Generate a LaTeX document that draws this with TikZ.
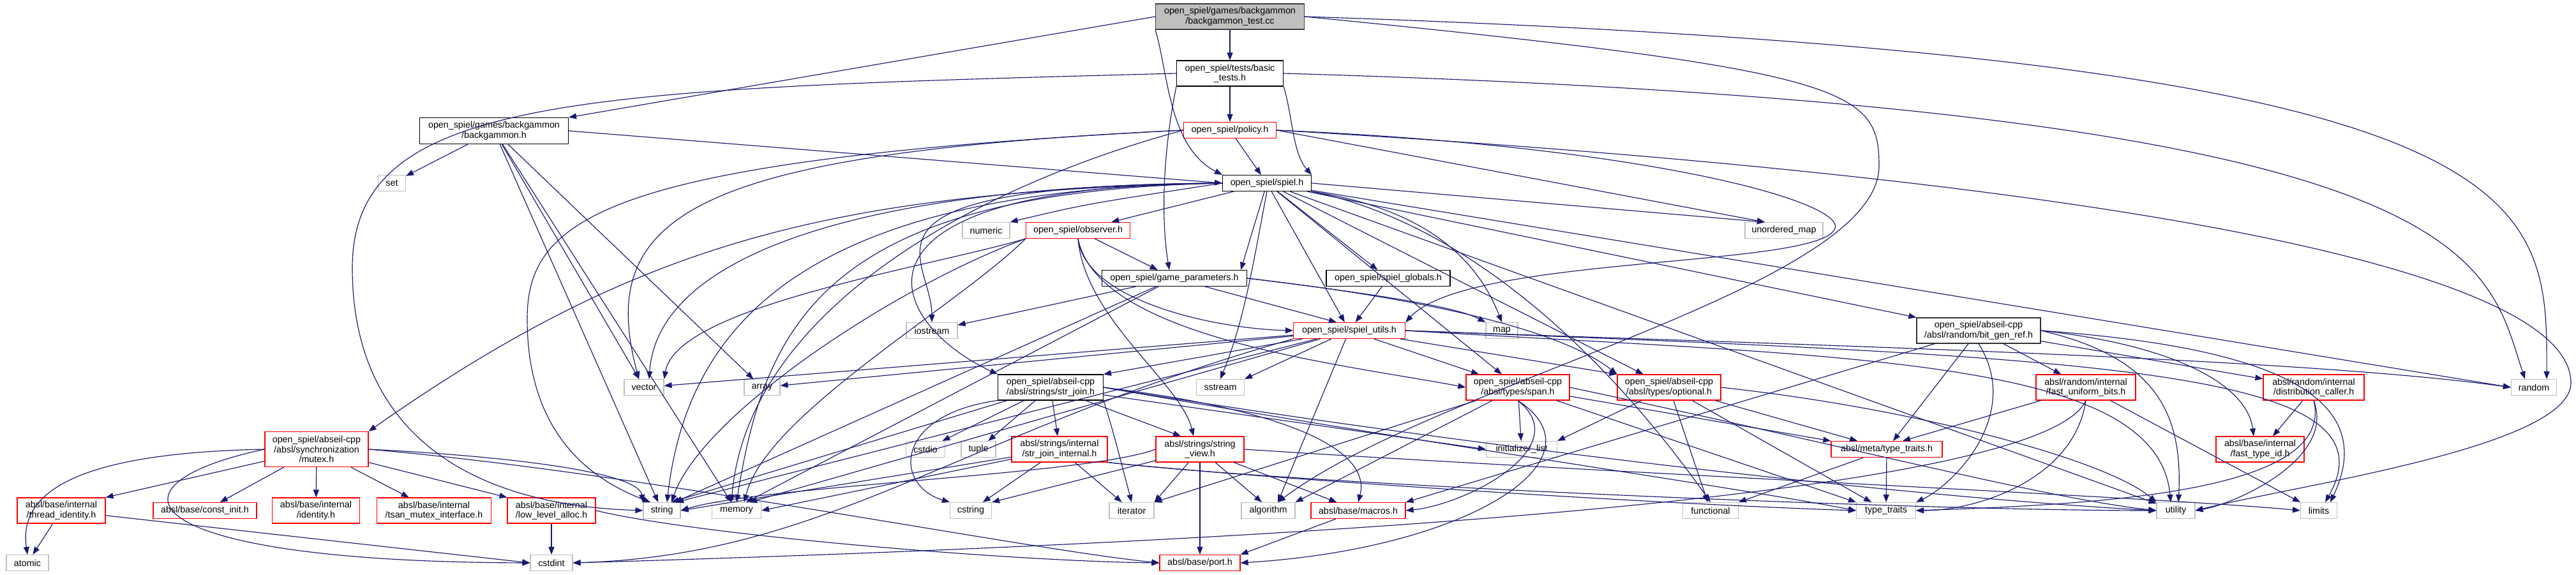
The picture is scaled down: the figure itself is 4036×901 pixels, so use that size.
\documentclass[tikz,border=0pt]{standalone}
\usepackage{fontspec}
\setmainfont{Liberation Sans}
\usetikzlibrary{arrows.meta}
\definecolor{edgeblue}{HTML}{191970}
\definecolor{sysgray}{HTML}{BFBFBF}
\definecolor{rootfill}{HTML}{BFBFBF}
\definecolor{redline}{HTML}{FF0000}
\begin{document}
\begin{tikzpicture}[x=1pt,y=-1pt,
  nd/.style={draw, line width=1.1pt, fill=white, inner sep=0pt, align=center,
    font=\fontsize{14.3pt}{15.5pt}\selectfont},
  blk/.style={nd, draw=black},
  rbox/.style={nd, draw=redline},
  sys/.style={nd, draw=sysgray},
  rootnd/.style={nd, draw=black!75, fill=rootfill},
  e/.style={draw=edgeblue, line width=1.15pt, -{Triangle[length=12pt,width=9pt]}}]
\fill[white] (0,0) rectangle (4036,901);
\useasboundingbox (0,0) rectangle (4036,901);
% ---------------- nodes ----------------
\node[rootnd, minimum width=233pt, minimum height=40pt] (tc) at (1927,26) {open\_spiel/games/backgammon\\/backgammon\_test.cc};
\node[blk, minimum width=167pt, minimum height=40pt] (bt) at (1927,115) {open\_spiel/tests/basic\\\_tests.h};
\node[blk, minimum width=233pt, minimum height=41pt] (bgh) at (774,205) {open\_spiel/games/backgammon\\/backgammon.h};
\node[rbox, minimum width=145pt, minimum height=25pt] (pol) at (1927,204) {open\_spiel/policy.h};
\node[blk, minimum width=139pt, minimum height=25pt] (sp) at (1985,287) {open\_spiel/spiel.h};
\node[sys, minimum width=43pt, minimum height=25pt] (set) at (614,287) {set};
\node[sys, minimum width=74pt, minimum height=25pt] (num) at (1545,361) {numeric};
\node[rbox, minimum width=163pt, minimum height=25pt] (obs) at (1689,361) {open\_spiel/observer.h};
\node[sys, minimum width=122pt, minimum height=25pt] (umap) at (2795,361) {unordered\_map};
\node[blk, minimum width=227pt, minimum height=25pt] (gp) at (1840,436) {open\_spiel/game\_parameters.h};
\node[blk, minimum width=194pt, minimum height=25pt] (sg) at (2175,436) {open\_spiel/spiel\_globals.h};
\node[sys, minimum width=80pt, minimum height=25pt] (ios) at (1460,518) {iostream};
\node[rbox, minimum width=175pt, minimum height=25pt] (su) at (2114,518) {open\_spiel/spiel\_utils.h};
\node[sys, minimum width=50pt, minimum height=25pt] (map) at (2353,518) {map};
\node[blk, draw=black!80, minimum width=194pt, minimum height=40pt] (bgr) at (3100,518) {open\_spiel/abseil-cpp\\/absl/random/bit\_gen\_ref.h};
\node[sys, minimum width=62pt, minimum height=25pt] (vec) at (1009,607) {vector};
\node[sys, minimum width=56pt, minimum height=25pt] (arr) at (1194,607) {array};
\node[blk, minimum width=165pt, minimum height=40pt] (sj) at (1646,607) {open\_spiel/abseil-cpp\\/absl/strings/str\_join.h};
\node[sys, minimum width=75pt, minimum height=25pt] (ss) at (1912,607) {sstream};
\node[rbox, minimum width=162pt, minimum height=40pt] (span) at (2378,607) {open\_spiel/abseil-cpp\\/absl/types/span.h};
\node[rbox, minimum width=162pt, minimum height=40pt] (opt) at (2615,607) {open\_spiel/abseil-cpp\\/absl/types/optional.h};
\node[rbox, minimum width=156pt, minimum height=40pt] (fub) at (3268,607) {absl/random/internal\\/fast\_uniform\_bits.h};
\node[rbox, minimum width=158pt, minimum height=40pt] (dc) at (3625,607) {absl/random/internal\\/distribution\_caller.h};
\node[sys, minimum width=71pt, minimum height=25pt] (rnd) at (3970,607) {random};
\node[rbox, minimum width=162pt, minimum height=55pt] (mtx) at (496,704) {open\_spiel/abseil-cpp\\/absl/synchronization\\/mutex.h};
\node[sys, minimum width=61pt, minimum height=25pt] (cstdio) at (1450,704) {cstdio};
\node[sys, minimum width=54pt, minimum height=25pt] (tuple) at (1533,704) {tuple};
\node[rbox, minimum width=150pt, minimum height=40pt] (sji) at (1660,704) {absl/strings/internal\\/str\_join\_internal.h};
\node[rbox, minimum width=138pt, minimum height=40pt] (sv) at (1880,704) {absl/strings/string\\\_view.h};
\node[sys, minimum width=111pt, minimum height=25pt] (il) at (2384,704) {initializer\_list};
\node[rbox, minimum width=174pt, minimum height=25pt] (mtt) at (2956,704) {absl/meta/type\_traits.h};
\node[rbox, minimum width=138pt, minimum height=40pt] (fti) at (3541,704) {absl/base/internal\\/fast\_type\_id.h};
\node[rbox, minimum width=138pt, minimum height=40pt] (ti) at (96,800) {absl/base/internal\\/thread\_identity.h};
\node[rbox, minimum width=162pt, minimum height=25pt] (ci) at (321,800) {absl/base/const\_init.h};
\node[rbox, minimum width=137pt, minimum height=40pt] (idn) at (495,800) {absl/base/internal\\/identity.h};
\node[rbox, minimum width=179pt, minimum height=40pt] (tsan) at (680,800) {absl/base/internal\\/tsan\_mutex\_interface.h};
\node[rbox, minimum width=138pt, minimum height=40pt] (lla) at (864,800) {absl/base/internal\\/low\_level\_alloc.h};
\node[sys, minimum width=58pt, minimum height=25pt] (str) at (1037,800) {string};
\node[sys, minimum width=77pt, minimum height=25pt] (mem) at (1154,800) {memory};
\node[sys, minimum width=65pt, minimum height=25pt] (cstring) at (1521,800) {cstring};
\node[sys, minimum width=70pt, minimum height=25pt] (iter) at (1773,800) {iterator};
\node[sys, minimum width=84pt, minimum height=25pt] (alg) at (1987,800) {algorithm};
\node[rbox, minimum width=148pt, minimum height=25pt] (mac) at (2128,800) {absl/base/macros.h};
\node[sys, minimum width=87pt, minimum height=25pt] (func) at (2680,800) {functional};
\node[sys, minimum width=93pt, minimum height=25pt] (tt) at (2955,800) {type\_traits};
\node[sys, minimum width=60pt, minimum height=25pt] (util) at (3409,800) {utility};
\node[sys, minimum width=57pt, minimum height=25pt] (lim) at (3633,800) {limits};
\node[sys, minimum width=66pt, minimum height=25pt] (atomic) at (43,882) {atomic};
\node[sys, minimum width=66pt, minimum height=25pt] (cstdint) at (864,882) {cstdint};
\node[rbox, minimum width=126pt, minimum height=25pt] (port) at (1880,882) {absl/base/port.h};
\coordinate (tcalg) at (2944,260);
\coordinate (btstr) at (552,420);
\coordinate (polstr) at (826,500);
\coordinate (polsu) at (2874,360);
\coordinate (polut) at (4028,600);
% ---------------- edges ----------------
% backgammon_test.cc
\draw[e] (tc.west) -- (bgh.north east);
\draw[e] (tc) -- (bt);
\draw[e] (tc.south west) .. controls (1830,110) and (1830,230) .. (sp.north west);
\draw[e] (tc.east) .. controls (3991,90) and (3991,300) .. ([xshift=20pt]rnd.north);
\draw[e] (tc.east) .. controls (2900,110) and (2944,140) .. (tcalg) .. controls (2944,450) and (2250,600) .. ([xshift=15pt]alg.north);
% basic_tests.h
\draw[e] (bt) -- (pol);
\draw[e] (bt.south east) .. controls (2025,180) and (2025,240) .. (sp.north east);
\draw[e] (bt.south west) .. controls (1820,250) and (1820,350) .. ([xshift=-8pt]gp.north);
\draw[e] (bt.east) .. controls (3892,170) and (3892,400) .. ([xshift=-14pt]rnd.north);
\draw[e] (bt.west) .. controls (900,140) and (552,150) .. (btstr) .. controls (552,650) and (700,790) .. (str.west);
% backgammon.h
\draw[e] (bgh) -- (set);
\draw[e] (bgh) -- (arr);
\draw[e] (bgh) -- (mem);
\draw[e] (bgh) -- (str);
\draw[e] (bgh) -- (vec);
\draw[e] (bgh.east) -- (sp.west);
% policy.h
\draw[e] (pol) -- (sp);
\draw[e] (pol.west) .. controls (1100,240) and (930,330) .. ([xshift=-8pt]vec.north);
\draw[e] (pol.west) .. controls (950,250) and (826,340) .. (polstr) .. controls (826,700) and (950,760) .. ([xshift=-18pt]str.north);
\draw[e] (pol.west) .. controls (1500,300) and (1170,500) .. ([xshift=-8pt]mem.north);
\draw[e] (pol.east) -- ([xshift=-30pt]umap.north);
\draw[e] (pol.east) .. controls (2600,230) and (2900,320) .. (polsu) .. controls (2840,420) and (2300,400) .. (su.north east);
\draw[e] (pol.east) .. controls (3300,280) and (4028,420) .. (polut) .. controls (4028,700) and (3600,760) .. (util.east);
% spiel.h
\draw[e] (sp.west) .. controls (1700,320) .. (num.north east);
\draw[e] (sp) -- (obs);
\draw[e] (sp) -- ([xshift=-10pt]gp.north east);
\draw[e] (sp) -- (sg);
\draw[e] (sp.east) -- ([xshift=-30pt]umap.north);
\draw[e] (sp.south) .. controls (1962,420) and (1950,500) .. (ss.north);
\draw[e] (sp.south east) .. controls (2300,350) and (2520,560) .. (func.north);
\draw[e] (sp.south east) .. controls (2250,330) and (2320,420) .. (map.north);
\draw[e] (sp.west) .. controls (1300,300) and (1200,500) .. (mem.north);
\draw[e] (sp.west) .. controls (1300,295) and (1080,480) .. ([xshift=8pt]str.north);
\draw[e] (sp.west) .. controls (1350,290) and (1030,400) .. ([xshift=8pt]vec.north);
\draw[e] (sp.west) .. controls (1300,300) and (1000,380) .. (mtx.north east);
\draw[e] (sp.west) .. controls (1300,290) and (1460,400) .. (ios.north);
\draw[e] (sp.west) .. controls (1300,290) and (1380,500) .. (sj.north west);
\draw[e] (sp) -- (rnd.west);
\draw[e] (sp) -- (util);
\draw[e] (sp) -- (bgr.north west);
\draw[e] (sp) -- (span);
\draw[e] (sp) -- (opt);
\draw[e] (sp) -- (su);
% observer.h
\draw[e] (obs) -- (gp);
\draw[e] (obs.south) .. controls (1700,470) and (1900,515) .. (su.west);
\draw[e] (obs.south) .. controls (1720,530) and (2100,570) .. (span.west);
\draw[e] (obs.south) .. controls (1700,500) and (1850,600) .. ([xshift=-10pt]sv.north);
\draw[e] (obs.south west) .. controls (1500,480) and (1200,650) .. ([xshift=12pt]mem.north);
\draw[e] (obs.south west) .. controls (1400,450) and (1100,650) .. ([xshift=15pt]str.north);
\draw[e] (obs.south west) .. controls (1450,420) and (1060,480) .. (vec.north east);
% game_parameters.h
\draw[e] (gp) -- (ios);
\draw[e] (gp) -- ([xshift=15pt]mem.north);
\draw[e] (gp) -- ([xshift=20pt]str.north);
\draw[e] (gp) -- ([xshift=-20pt]su.north);
\draw[e] (gp.east) .. controls (2150,460) and (2280,480) .. (map.north west);
\draw[e] (gp.east) .. controls (2250,470) and (2450,520) .. (opt.north west);
% spiel_globals.h
\draw[e] (sg) -- (su);
% spiel_utils.h
\draw[e] (su) -- (arr);
\draw[e] (su) -- (vec);
\draw[e] (su) -- (sj.north east);
\draw[e] (su) -- (ss.north east);
\draw[e] (su) -- ([xshift=22pt]str.north);
\draw[e] (su) -- ([xshift=20pt]mem.north);
\draw[e] (su.south west) .. controls (1500,680) and (1300,870) .. (cstdint.east);
\draw[e] (su) -- ([xshift=15pt]alg.north);
\draw[e] (su) -- (span);
\draw[e] (su) -- (opt.north west);
\draw[e] (su.east) .. controls (2800,540) and (3600,560) .. (rnd.west);
\draw[e] (su.east) .. controls (2900,560) and (3380,560) .. ([xshift=-8pt]util.north);
\draw[e] (su.east) .. controls (3300,560) and (3760,580) .. ([xshift=10pt]lim.north);
% bit_gen_ref.h
\draw[e] (bgr) -- (fub);
\draw[e] (bgr) -- (dc);
\draw[e] (bgr.east) .. controls (3400,540) and (3520,600) .. ([xshift=-10pt]fti.north);
\draw[e] (bgr) -- (mac.north east);
\draw[e] (bgr) -- (mtt);
\draw[e] (bgr.south) .. controls (3170,650) and (3060,760) .. (tt.north east);
\draw[e] (bgr.east) .. controls (3380,560) and (3420,650) .. ([xshift=4pt]util.north);
\draw[e] (bgr.east) .. controls (3500,540) and (3740,600) .. ([xshift=18pt]lim.north);
% str_join.h
\draw[e] (sj) -- (cstdio);
\draw[e] (sj) -- (tuple);
\draw[e] (sj) -- (sji);
\draw[e] (sj) -- ([xshift=-30pt]sv.north);
\draw[e] (sj.south east) .. controls (1745,680) .. (iter.north);
\draw[e] (sj.south west) .. controls (1400,650) and (1400,760) .. (cstring.north west);
\draw[e] (sj) -- ([xshift=-15pt]str.north east);
\draw[e] (sj) -- (il.west);
\draw[e] (sj.east) .. controls (2200,690) and (2700,760) .. (tt.west);
\draw[e] (sj.east) .. controls (2300,700) and (3000,780) .. (util.west);
\draw[e] (sj.east) .. controls (2000,640) and (2150,700) .. (mac.north);
% str_join_internal.h
\draw[e] (sji) -- (cstring);
\draw[e] (sji) -- (iter);
\draw[e] (sji) -- (mem.east);
\draw[e] (sji) -- (str.east);
\draw[e] (sji.south east) .. controls (2000,752) and (2600,790) .. (tt.west);
\draw[e] (sji.south east) .. controls (2050,760) and (3000,800) .. (util.west);
% string_view.h
\draw[e] (sv) -- ([xshift=-10pt]alg.north);
\draw[e] (sv) -- (cstring.north east);
\draw[e] (sv) -- (iter.north east);
\draw[e] (sv) -- (port);
\draw[e] (sv) -- (mac);
\draw[e] (sv.west) .. controls (1700,745) and (1200,760) .. (str.east);
\draw[e] (sv.east) .. controls (2500,740) and (3400,780) .. (lim.west);
% span.h
\draw[e] (span) -- (il);
\draw[e] (span) -- (alg.north east);
\draw[e] (span) -- (iter.north east);
\draw[e] (span.south) .. controls (2470,700) and (2300,790) .. (mac.east);
\draw[e] (span.south) .. controls (2520,720) and (2300,860) .. (port.east);
\draw[e] (span) -- (tt.north west);
\draw[e] (span.east) .. controls (2900,700) and (3200,780) .. (util.west);
\draw[e] (span) -- (mtt.north west);
% optional.h
\draw[e] (opt) -- (func);
\draw[e] (opt) -- (il.north east);
\draw[e] (opt) -- (tt);
\draw[e] (opt) -- (mtt);
\draw[e] (opt.east) .. controls (3000,640) and (3300,720) .. (util.north west);
% absl/meta/type_traits.h
\draw[e] (mtt) -- (func.north east);
\draw[e] (mtt) -- (tt);
% fast_uniform_bits.h
\draw[e] (fub) -- ([xshift=25pt]mtt.north);
\draw[e] (fub.south) .. controls (3250,750) and (3100,800) .. (tt.east);
\draw[e] (fub) -- (lim.north west);
\draw[e] (fub.south) .. controls (3200,780) and (2000,850) .. (cstdint.east);
% distribution_caller.h
\draw[e] (dc) -- ([xshift=20pt]fti.north);
\draw[e] (dc.south) .. controls (3660,720) and (3500,790) .. (util.east);
\draw[e] (dc.south) .. controls (3660,770) and (3300,790) .. (tt.east);
% mutex.h
\draw[e] (mtx.west) .. controls (100,710) and (30,780) .. (atomic.north);
\draw[e] (mtx.west) .. controls (150,760) and (200,880) .. (cstdint.west);
\draw[e] (mtx) -- (ti.north east);
\draw[e] (mtx) -- (ci);
\draw[e] (mtx) -- (idn);
\draw[e] (mtx) -- (tsan);
\draw[e] (mtx) -- (lla.north west);
\draw[e] (mtx.east) .. controls (800,715) and (1000,740) .. (str.north west);
\draw[e] (mtx.east) .. controls (1000,740) and (1600,860) .. (port.west);
% others
\draw[e] (ti) -- (atomic);
\draw[e] (ti) -- (cstdint.west);
\draw[e] (lla) -- (cstdint);
\draw[e] (lla.east) .. controls (1100,840) and (1600,880) .. (port.west);
\draw[e] (mac) -- (port.north east);
\end{tikzpicture}
\end{document}
